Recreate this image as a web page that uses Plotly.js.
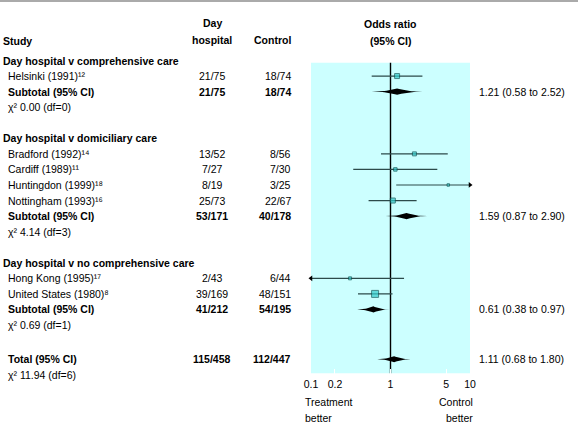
<!DOCTYPE html>
<html><head><meta charset="utf-8">
<script src="https://cdn.plot.ly/plotly-3.0.1.min.js"></script>
<style>html,body{margin:0;padding:0;background:#fff}#chart{width:578px;height:426px}</style>
</head><body><div id="chart"></div>
<script>
// ---------- data ----------
const rowText = ["Day hospital v comprehensive care","Helsinki (1991)¹²","Subtotal (95% CI)","χ² 0.00 (df=0)","",
  "Day hospital v domiciliary care","Bradford (1992)¹⁴","Cardiff (1989)¹¹","Huntingdon (1999)¹⁸","Nottingham (1993)¹⁶","Subtotal (95% CI)","χ² 4.14 (df=3)","",
  "Day hospital v no comprehensive care","Hong Kong (1995)¹⁷","United States (1980)⁸","Subtotal (95% CI)","χ² 0.69 (df=1)","",
  "Total (95% CI)","χ² 11.94 (df=6)"];
const rowKind = ["g","s","t","c","b","g","s","s","s","s","t","c","b","g","s","s","t","c","b","t","c"];
const rowPos  = [0,1,2,3,4,5,6,7,8,9,10,11,12,13,14,15,16,17,18,19.2,20.2];
const dayHospital = ["","21/75","21/75","","","","13/52","7/27","8/19","25/73","53/171","","","","2/43","39/169","41/212","","","115/458",""];
const controlGrp  = ["","18/74","18/74","","","","8/56","7/30","3/25","22/67","40/178","","","","6/44","48/151","54/195","","","112/447",""];

const studyRow  = [1,6,7,8,9,14,15];
const studyOR   = [1.21,2.00,1.15,5.33,1.07,0.31,0.64];
const studyLo   = [0.58,0.76,0.34,1.18,0.53,0.06,0.39];
const studyHi   = [2.52,5.25,3.88,24.0,2.13,1.48,1.06];
const studyWeight = [5,4,3.5,2.5,5,3,7];

const sumRow = [2,10,16,19.2];
const sumOR  = [1.21,1.59,0.61,1.11];
const sumLo  = [0.58,0.87,0.38,0.68];
const sumHi  = [2.52,2.90,0.97,1.80];

const tickVals = [0.1,0.2,1,5,10];
const tickText = ["0.1","0.2","1","5","10"];

// ---------- build ----------
const W = 578, H = 426;
const FONT = "Liberation Sans, Arial, Helvetica, sans-serif";
const FS = 10.5;
const px = v => v / W;
const py = v => 1 - v / H;
const XMIN = 0.1, XMAX = 10;

const traces = [];
// reference line at OR = 1
traces.push({x:[1,1], y:[0.15,20.1], mode:"lines", line:{color:"#000", width:1.4}, hoverinfo:"skip", cliponaxis:false});

// study CIs
studyRow.forEach((r,i)=>{
  const lo = Math.max(studyLo[i], XMIN), hi = Math.min(studyHi[i], XMAX);
  traces.push({x:[lo,hi], y:[r,r], mode:"lines", line:{color:"#2c4a4a", width:1.2}, hoverinfo:"skip", cliponaxis:false});
  if (studyHi[i] > XMAX) traces.push({x:[XMAX], y:[r], mode:"markers", marker:{symbol:"triangle-right", size:5, color:"#000"}, cliponaxis:false, hoverinfo:"skip"});
  if (studyLo[i] < XMIN) traces.push({x:[XMIN], y:[r], mode:"markers", marker:{symbol:"triangle-left", size:5, color:"#000"}, cliponaxis:false, hoverinfo:"skip"});
});
// study point estimates
traces.push({x:studyOR, y:studyRow, mode:"markers", marker:{symbol:"square", size:studyWeight, color:"#33cccc", line:{color:"#0b5555", width:1}}, hoverinfo:"skip", cliponaxis:false});

// summary diamonds (spindle shape)
const half = 0.2;
sumRow.forEach((r,i)=>{
  const L = Math.log10(sumLo[i]), M = Math.log10(sumOR[i]), R = Math.log10(sumHi[i]);
  const xs=[], ys=[]; const n=12, p=2.2;
  for (let k=0;k<=n;k++){ const t=k/n; xs.push(Math.pow(10, L+(M-L)*t)); ys.push(r - half*Math.pow(t,p)); }
  for (let k=n;k>=0;k--){ const t=k/n; xs.push(Math.pow(10, R+(M-R)*t)); ys.push(r - half*Math.pow(t,p)); }
  for (let k=0;k<=n;k++){ const t=k/n; xs.push(Math.pow(10, R+(M-R)*t)); ys.push(r + half*Math.pow(t,p)); }
  for (let k=n;k>=0;k--){ const t=k/n; xs.push(Math.pow(10, L+(M-L)*t)); ys.push(r + half*Math.pow(t,p)); }
  traces.push({x:xs, y:ys, mode:"lines", fill:"toself", fillcolor:"#000", line:{width:0, color:"#000"}, hoverinfo:"skip", cliponaxis:false});
});

// ---------- annotations ----------
const ann = [];
const A = (o)=>ann.push(Object.assign({showarrow:false, font:{family:FONT,size:FS,color:"#000"}, xref:"paper", yref:"y"}, o));

rowText.forEach((t,i)=>{
  if(!t) return;
  const k = rowKind[i];
  const bold = (k==="g"||k==="t");
  const x = (k==="g") ? 1 : 6;
  A({x:px(x), y:rowPos[i], xanchor:"left", yanchor:"middle", text: bold?"<b>"+t+"</b>":t});
  if (dayHospital[i]) A({x:px(212), y:rowPos[i], xanchor:"center", yanchor:"middle", text: k==="t"?"<b>"+dayHospital[i]+"</b>":dayHospital[i]});
  if (controlGrp[i]) A({x:px(293), y:rowPos[i], xanchor:"right", yanchor:"middle", text: k==="t"?"<b>"+controlGrp[i]+"</b>":controlGrp[i]});
});
sumRow.forEach((r,i)=>{
  A({x:px(477), y:r, xanchor:"left", yanchor:"middle", text: sumOR[i].toFixed(2)+" ("+sumLo[i].toFixed(2)+" to "+sumHi[i].toFixed(2)+")"});
});
// headers
const HA = (o)=>ann.push(Object.assign({showarrow:false, font:{family:FONT,size:FS,color:"#000"}, xref:"paper", yref:"paper", yanchor:"middle"}, o));
HA({x:px(1), y:py(41), xanchor:"left", text:"<b>Study</b>"});
HA({x:px(212), y:py(23), xanchor:"center", text:"<b>Day</b>"});
HA({x:px(212), y:py(40), xanchor:"center", text:"<b>hospital</b>"});
HA({x:px(293), y:py(40), xanchor:"right", text:"<b>Control</b>"});
HA({x:px(390), y:py(24), xanchor:"center", text:"<b>Odds ratio</b>"});
HA({x:px(390), y:py(41), xanchor:"center", text:"<b>(95% CI)</b>"});
HA({x:px(303), y:py(402), xanchor:"left", text:"Treatment"});
HA({x:px(303), y:py(418), xanchor:"left", text:"better"});
HA({x:px(475), y:py(402), xanchor:"right", text:"Control"});
HA({x:px(475), y:py(418), xanchor:"right", text:"better"});

const layout = {
  width:W, height:H, margin:{l:0,r:0,t:0,b:0}, paper_bgcolor:"#fff", plot_bgcolor:"rgba(0,0,0,0)",
  showlegend:false, font:{family:FONT, size:FS, color:"#000"},
  xaxis:{type:"log", range:[-1,1], domain:[311/W, 470/W], anchor:"free", position:50/H,
    tickmode:"array", tickvals:tickVals, ticktext:tickText, ticks:"inside", ticklen:7, tickcolor:"#fff", tickwidth:1,
    showline:false, showgrid:false, zeroline:false, tickfont:{family:FONT,size:FS,color:"#000"}, fixedrange:true},
  yaxis:{range:[23.49,-3.888], domain:[0,1], visible:false, fixedrange:true},
  shapes:[
    {type:"rect", xref:"x domain", x0:0, x1:1, yref:"y", y0:0.15, y1:20.1, fillcolor:"#ccffff", line:{width:0}, layer:"below"},
    {type:"line", xref:"paper", yref:"paper", x0:0, x1:1, y0:py(1), y1:py(1), line:{color:"#aaaaaa", width:2}}
  ],
  annotations: ann
};
Plotly.newPlot("chart", traces, layout, {displayModeBar:false, staticPlot:true});
</script></body></html>
